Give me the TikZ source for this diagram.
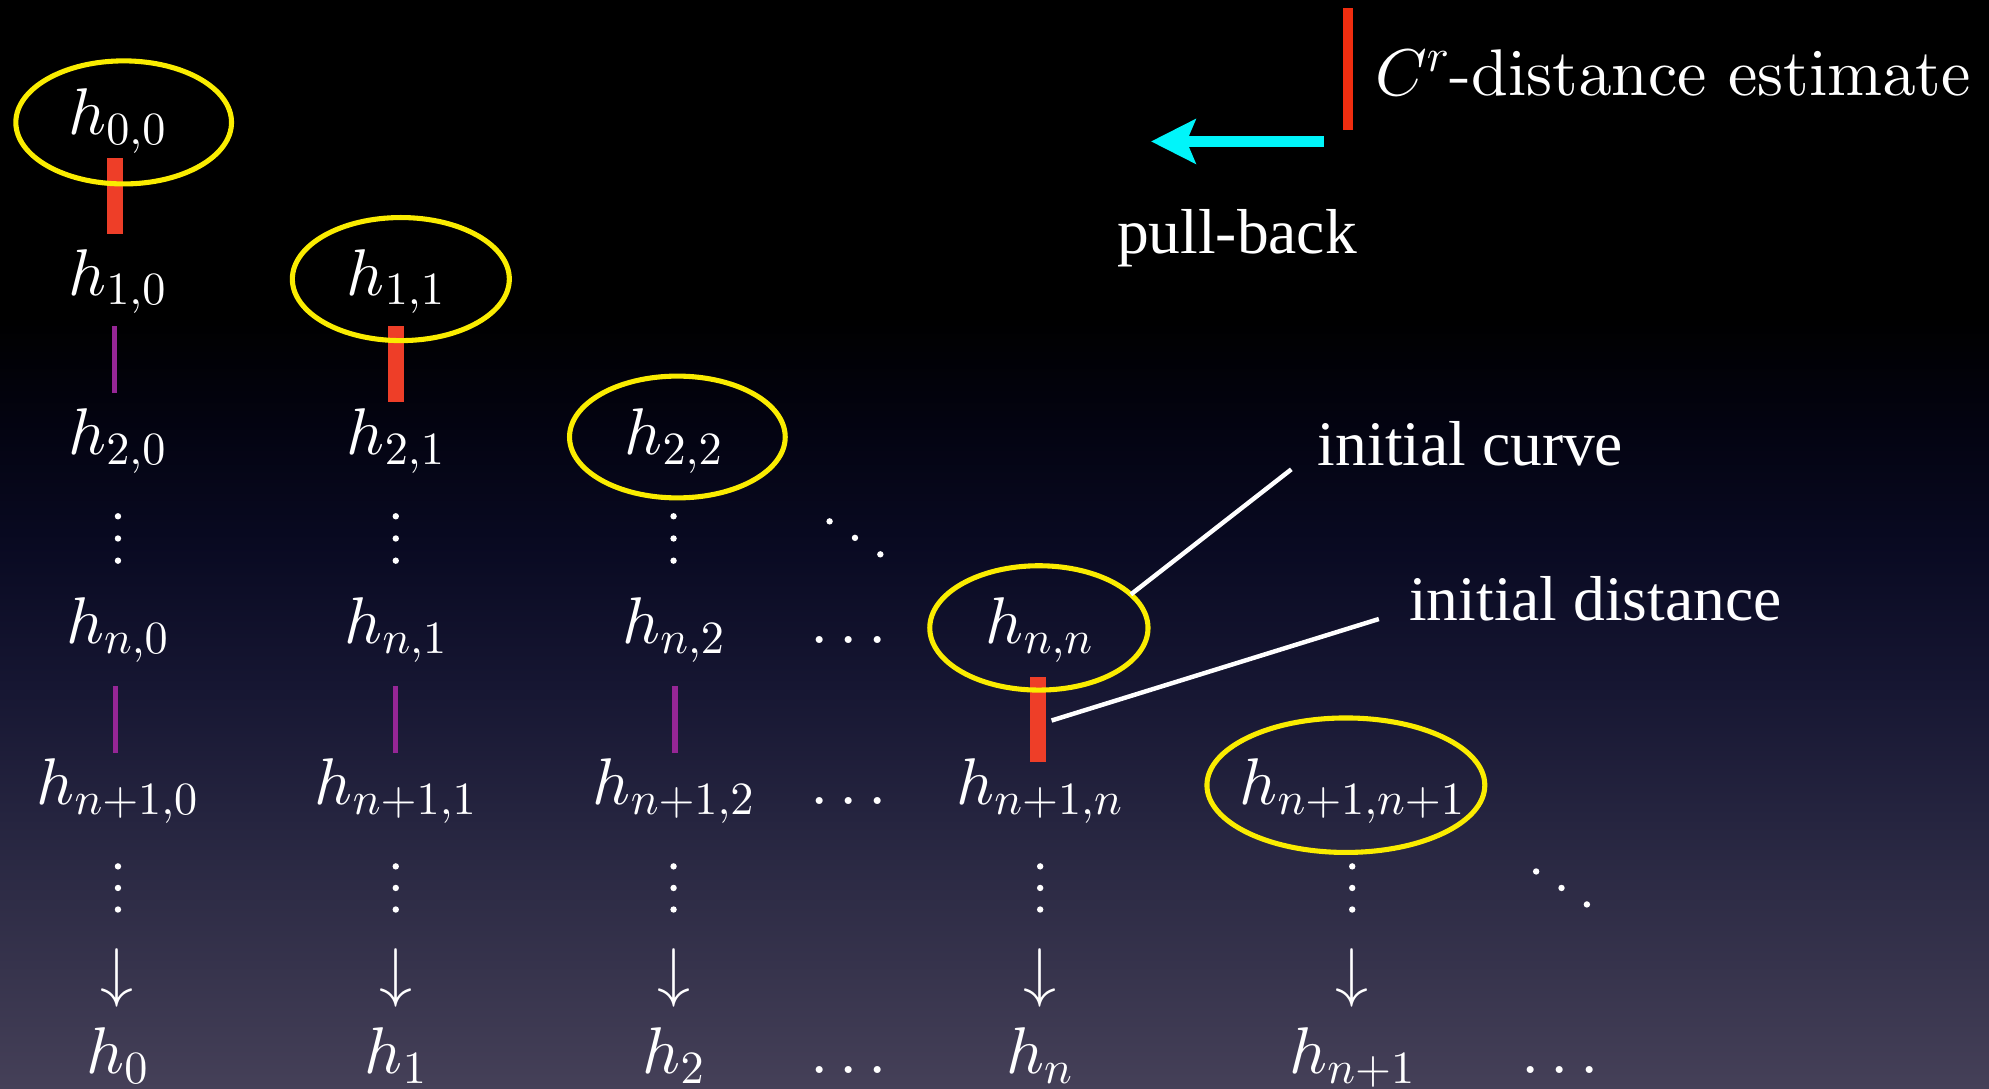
\documentclass[tikz,border=0pt]{standalone}
\usepackage{fontspec}
\newfontfamily\labfont{Liberation Serif}
\usetikzlibrary{arrows.meta,calc,shapes.geometric}

% Computer Modern, 10pt designs scaled to every size
\DeclareFontFamily{OML}{cmm}{\skewchar\font'177}
\DeclareFontShape{OML}{cmm}{m}{it}{<->cmmi10}{}
\DeclareFontFamily{OMS}{cmsy}{\skewchar\font'60}
\DeclareFontShape{OMS}{cmsy}{m}{n}{<->cmsy10}{}
\DeclareFontFamily{OT1}{cmr}{\hyphenchar\font45}
\DeclareFontShape{OT1}{cmr}{m}{n}{<->cmr10}{}
\DeclareFontFamily{OMX}{cmex}{}
\DeclareFontShape{OMX}{cmex}{m}{n}{<->cmex10}{}
\DeclareSymbolFont{operators}{OT1}{cmr}{m}{n}
\newcommand\cmtext{\fontencoding{OT1}\fontfamily{cmr}\selectfont}

\definecolor{ringyellow}{RGB}{250,236,0}
\definecolor{barred}{RGB}{238,62,40}
\definecolor{keyred}{RGB}{240,45,15}
\definecolor{linkpurple}{RGB}{150,38,150}
\definecolor{pullcyan}{RGB}{0,245,250}
\definecolor{bgA}{RGB}{3,3,16}
\definecolor{bgB}{RGB}{9,10,34}
\definecolor{bgC}{RGB}{22,22,50}
\definecolor{bgD}{RGB}{38,37,64}
\definecolor{bgE}{RGB}{54,51,76}
\definecolor{bgF}{RGB}{69,64,88}

\begin{document}
\begin{tikzpicture}[x=0.025cm, y=-0.025cm,
  term/.style={text=white, inner sep=0pt, outer sep=0pt, anchor=base,
    font=\fontsize{37}{44}\selectfont\cmtext},
  note/.style={text=white, inner sep=0pt, outer sep=0pt, anchor=base west,
    font=\labfont\fontsize{35.6}{42}\selectfont},
  ring/.style={draw=ringyellow, line width=2.85pt, ellipse, inner sep=0pt, outer sep=0pt},
  redbar/.style={draw=barred, line width=9pt},
  keybar/.style={draw=keyred, line width=5.7pt},
  purplebar/.style={draw=linkpurple, line width=3pt},
  leader/.style={draw=white, line width=2.5pt},
  pullarrow/.style={draw=pullcyan, fill=pullcyan, line width=6.2pt,
    -{Stealth[length=0.875cm, width=0.8675cm, inset=0.175cm]}},
  dotfill/.style={fill=white}
]
% background: black sky fading to a grey-violet at the bottom
\useasboundingbox (0,0) rectangle (1568,858.5);
\fill[black] (0,0) rectangle (1568,250);
\shade[top color=black, bottom color=bgA] (0,249) rectangle (1568,331);
\shade[top color=bgA, bottom color=bgB] (0,330) rectangle (1568,431);
\shade[top color=bgB, bottom color=bgC] (0,430) rectangle (1568,541);
\shade[top color=bgC, bottom color=bgD] (0,540) rectangle (1568,651);
\shade[top color=bgD, bottom color=bgE] (0,650) rectangle (1568,761);
\shade[top color=bgE, bottom color=bgF] (0,760) rectangle (1568,858.5);

% the double sequence h_{i,j}
\node[term] (h00) at (92.5,106.4) {$h_{0,0}$};
\node[term] (h10) at (92.5,232.6) {$h_{1,0}$};
\node[term] (h11) at (312,232.6) {$h_{1,1}$};
\node[term] (h20) at (92.5,358.6) {$h_{2,0}$};
\node[term] (h21) at (312,358.6) {$h_{2,1}$};
\node[term] (h22) at (531,358.6) {$h_{2,2}$};
\node[term] (hn0) at (92.5,507.5) {$h_{n,0}$};
\node[term] (hn1) at (312,507.5) {$h_{n,1}$};
\node[term] (hn2) at (531,507.5) {$h_{n,2}$};
\node[term] (cn)  at (669,507.5) {$\ldots$};
\node[term] (hnn) at (819.5,507.5) {$h_{n,n}$};
\node[term] (hm0) at (92.5,634) {$h_{n+1,0}$};
\node[term] (hm1) at (312,634) {$h_{n+1,1}$};
\node[term] (hm2) at (531,634) {$h_{n+1,2}$};
\node[term] (cm)  at (669,634) {$\ldots$};
\node[term] (hmn) at (819.5,634) {$h_{n+1,n}$};
\node[term] (hmm) at (1066,634) {$h_{n+1,n+1}$};

% limit arrows and limits
\node[term] (a0) at (92.5,784) {$\downarrow$};
\node[term] (a1) at (312,784) {$\downarrow$};
\node[term] (a2) at (531,784) {$\downarrow$};
\node[term] (an) at (819.5,784) {$\downarrow$};
\node[term] (am) at (1066,784) {$\downarrow$};
\node[term] (g0) at (92.5,846) {$h_0$};
\node[term] (g1) at (312,846) {$h_1$};
\node[term] (g2) at (531,846) {$h_2$};
\node[term] (gc) at (669,846) {$\ldots$};
\node[term] (gn) at (819.5,846) {$h_n$};
\node[term] (gm) at (1066,846) {$h_{n+1}$};
\node[term] (ge) at (1230,846) {$\ldots$};

% vertical and diagonal dots
\foreach \cx in {93,312,531}
  \foreach \cy in {407,424.5,442}
    \fill[dotfill] (\cx,\cy) circle[radius=0.063cm];
\foreach \cx in {93,312,531,820,1066}
  \foreach \cy in {683,700,717}
    \fill[dotfill] (\cx,\cy) circle[radius=0.063cm];
\foreach \cx/\cy in {654/411,674/424,694/437,1211/687,1231/700,1251/713}
  \fill[dotfill] (\cx,\cy) circle[radius=0.063cm];

% distance estimates between consecutive rows
\draw[redbar] ($(h00.base)+(-2,18)$) -- ($(h10.base)+(-2,-48)$);
\draw[redbar] ($(h11.base)+(0,24.5)$) -- ($(h21.base)+(0,-41.6)$);
\draw[redbar] ($(hnn.base)+(-1,26.5)$) -- ($(hmn.base)+(-1,-33)$);
\draw[purplebar] ($(h10.base)+(-2,24.5)$) -- ($(h20.base)+(-2,-48.6)$);
\draw[purplebar] ($(hn0.base)+(-1.5,33.5)$) -- ($(hm0.base)+(-1.5,-40)$);
\draw[purplebar] ($(hn1.base)+(0,33.5)$) -- ($(hm1.base)+(0,-40)$);
\draw[purplebar] ($(hn2.base)+(1,33.5)$) -- ($(hm2.base)+(1,-40)$);

% initial curves on the diagonal
\node[ring, minimum width=4.25cm, minimum height=2.425cm] (e00) at ($(h00.base)+(5,-9.9)$) {};
\node[ring, minimum width=4.275cm, minimum height=2.425cm] (e11) at ($(h11.base)+(4,-12.6)$) {};
\node[ring, minimum width=4.25cm, minimum height=2.4cm] (e22) at ($(h22.base)+(3,-14.1)$) {};
\node[ring, minimum width=4.3cm, minimum height=2.45cm] (enn) at ($(hnn.base)+(-0.5,-12.5)$) {};
\node[ring, minimum width=5.475cm, minimum height=2.65cm] (emm) at ($(hmm.base)+(-5,-15)$) {};

% legend
\coordinate (keytop) at (1062.7,6.6);
\coordinate (keybot) at (1062.7,102.5);
\draw[keybar] (keytop) -- (keybot);
\node[term, anchor=base west] (keytxt) at (1084,75) {$C^r$-distance estimate};
\coordinate (pbtail) at (1043.5,111.5);
\coordinate (pbhead) at (907.4,111.5);
\draw[pullarrow] (pbtail) -- (pbhead);
\node[note] (pb) at (880.6,199.5) {pull-back};

% callouts
\node[note] (curve) at (1039,366.6) {initial curve};
\node[note] (dist) at (1111,488.8) {initial distance};
\draw[leader] (enn.20) -- ($(curve.base west)+(-21,3.4)$);
\coordinate (dfoot) at (829,568);
\draw[leader] (dfoot) -- ($(dist.base west)+(-24,-0.8)$);
\end{tikzpicture}
\end{document}
